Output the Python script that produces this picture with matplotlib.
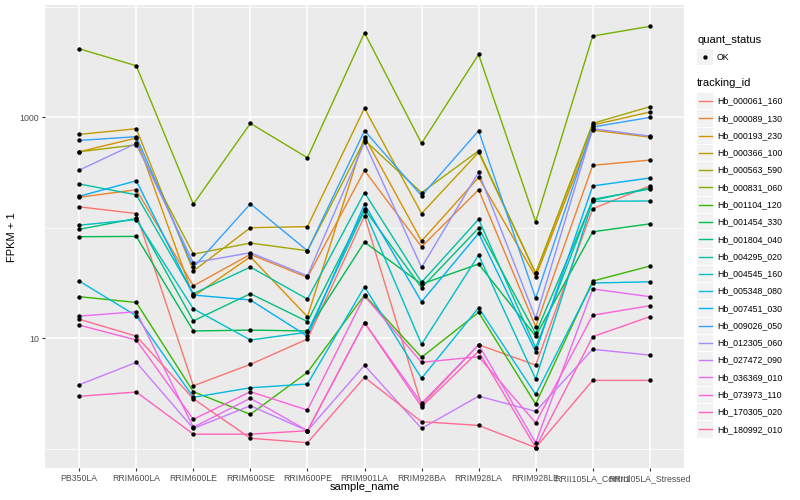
import matplotlib
matplotlib.use("Agg")
import matplotlib.pyplot as plt
from matplotlib.patches import Rectangle
from matplotlib.ticker import FixedLocator, NullFormatter

plt.rcParams['font.family'] = ['Liberation Sans', 'DejaVu Sans']

# samples (x axis)
samples = ["PB350LA", "RRIM600LA", "RRIM600LE", "RRIM600SE", "RRIM600PE",
           "RRIM901LA", "RRIM928BA", "RRIM928LA", "RRIM928LE",
           "RRII105LA_Control", "RRII105LA_Stressed"]

tracking_ids = ["Hb_000061_160", "Hb_000089_130", "Hb_000193_230", "Hb_000366_100",
                "Hb_000563_590", "Hb_000831_060", "Hb_001104_120", "Hb_001454_330",
                "Hb_001804_040", "Hb_004295_020", "Hb_004545_160", "Hb_005348_080",
                "Hb_007451_030", "Hb_009026_050", "Hb_012305_060", "Hb_027472_090",
                "Hb_036369_010", "Hb_073973_110", "Hb_170305_020", "Hb_180992_010"]

# FPKM + 1 per gene, one value per sample
hb_000061_160 = [154, 134, 3.70, 5.78, 9.8, 127, 2.48, 8.70, 5.70, 148, 238]
hb_000089_130 = [188, 220, 29.7, 57.2, 35.4, 329, 67.0, 220, 12.7, 366, 408]
hb_000193_230 = [485, 646, 23.8, 54.4, 15.6, 664, 75.5, 284, 35.9, 762, 659]
hb_000366_100 = [697, 784, 40.4, 99.6, 102, 1205, 134, 480, 38.5, 847, 1110]
hb_000563_590 = [485, 561, 57.5, 72.4, 61.7, 619, 207, 495, 38.5, 877, 1240]
hb_000831_060 = [4150, 2910, 163, 877, 428, 5790, 578, 3690, 113, 5410, 6620]
hb_001104_120 = [23.7, 21.0, 3.27, 2.04, 4.90, 24.5, 6.69, 17.1, 2.53, 32.8, 44.8]
hb_001454_330 = [82.6, 83.2, 11.6, 11.8, 11.6, 73.9, 30.8, 46.8, 10.4, 91.6, 108]
hb_001804_040 = [96.3, 121, 14.3, 25.2, 14.1, 147, 28.5, 98.9, 11.0, 176, 228]
hb_004295_020 = [248, 198, 25.2, 43.9, 22.5, 207, 31.9, 119, 8.17, 180, 223]
hb_004545_160 = [105, 118, 18.4, 9.6, 11.3, 142, 8.77, 56.4, 4.26, 173, 174]
hb_005348_080 = [32.8, 15.9, 2.91, 3.55, 3.84, 29.1, 4.32, 18.8, 3.09, 31.5, 32.3]
hb_007451_030 = [192, 265, 24.5, 22.1, 10.4, 163, 21.3, 88.7, 7.52, 238, 281]
hb_009026_050 = [615, 664, 43.6, 164, 61.7, 752, 194, 752, 22.9, 812, 993]
hb_012305_060 = [331, 578, 48.0, 59.2, 36.6, 590, 43.6, 316, 15.1, 784, 673]
hb_027472_090 = [3.78, 6.03, 1.52, 2.44, 1.45, 5.67, 1.52, 2.98, 2.17, 7.91, 7.01]
hb_036369_010 = [15.8, 17.3, 1.56, 2.85, 1.45, 13.8, 2.57, 8.70, 1.13, 27.8, 23.7]
hb_073973_110 = [13.1, 9.6, 1.84, 3.27, 2.23, 24.0, 6.03, 6.78, 1.71, 16.1, 19.6]
hb_170305_020 = [2.97, 3.25, 1.35, 1.35, 1.45, 13.8, 2.39, 7.59, 1.02, 10.3, 15.6]
hb_180992_010 = [14.8, 10.4, 2.82, 1.24, 1.13, 4.41, 1.75, 1.62, 1.02, 4.14, 4.14]

series = [hb_000061_160, hb_000089_130, hb_000193_230, hb_000366_100, hb_000563_590,
          hb_000831_060, hb_001104_120, hb_001454_330, hb_001804_040, hb_004295_020,
          hb_004545_160, hb_005348_080, hb_007451_030, hb_009026_050, hb_012305_060,
          hb_027472_090, hb_036369_010, hb_073973_110, hb_170305_020, hb_180992_010]

# ggplot hue palette, 20 levels
colors = ["#F8766D", "#EA8331", "#D89000", "#C09B00", "#A3A500", "#7CAE00", "#39B600",
          "#00BB4E", "#00BF7D", "#00C1A3", "#00BFC4", "#00BAE0", "#00B0F6", "#35A2FF",
          "#9590FF", "#C77CFF", "#E76BF3", "#FA62DB", "#FF62BC", "#FF6C91"]

W, H = 800, 500
fig = plt.figure(figsize=(8, 5), dpi=100)
ax = fig.add_axes([45 / W, 1 - 468 / H, 639 / W, 463 / H])
ax.set_facecolor("#EBEBEB")

x = list(range(len(samples)))
for vals, col in zip(series, colors):
    ax.plot(x, vals, color=col, lw=1.0, zorder=3)
for vals in series:
    ax.scatter(x, vals, s=10, color="black", zorder=4, linewidths=0)

ax.set_yscale("log")
ax.set_ylim(0.667, 10330)
ax.set_xlim(-0.6, len(samples) - 0.4)
ax.yaxis.set_major_locator(FixedLocator([10, 1000]))
ax.yaxis.set_minor_locator(FixedLocator([1, 100, 10000]))
ax.yaxis.set_minor_formatter(NullFormatter())
ax.set_yticklabels(["10", "1000"])
ax.set_xticks(x)
ax.set_xticklabels(samples)

ax.grid(True, which="major", color="white", lw=1.1, zorder=0)
ax.grid(True, which="minor", axis="y", color="white", lw=0.55, zorder=0)
ax.set_axisbelow(True)
for s in ax.spines.values():
    s.set_visible(False)
ax.tick_params(which="major", length=2.2, width=0.8, color="#333333",
               labelcolor="#4D4D4D", labelsize=6.3, pad=2)
ax.tick_params(which="minor", length=0)

fig.text(364.5 / W, 1 - 487 / H, "sample_name", fontsize=8, ha="center", va="center")
fig.text(12 / W, 1 - 237 / H, "FPKM + 1", fontsize=8, ha="center", va="center",
         rotation=90)

# legend drawn in pixel coordinates
lg = fig.add_axes([0, 0, 1, 1], facecolor="none")
lg.set_xlim(0, W)
lg.set_ylim(H, 0)
lg.axis("off")

lg.text(697, 40, "quant_status", fontsize=8, va="center", ha="left")
lg.add_patch(Rectangle((697, 49), 16, 16, color="#F2F2F2", lw=0))
lg.scatter([705], [57], s=10, color="black", linewidths=0)
lg.text(717, 57, "OK", fontsize=6.3, va="center", ha="left")

lg.text(697, 83, "tracking_id", fontsize=8, va="center", ha="left")
for i, (name, col) in enumerate(zip(tracking_ids, colors)):
    yc = 101 + i * 17.28
    lg.add_patch(Rectangle((697, yc - 8), 16, 16.3, color="#F2F2F2", lw=0))
    lg.plot([698.5, 711.5], [yc, yc], color=col, lw=1.0)
    lg.text(717, yc, name, fontsize=6.3, va="center", ha="left")

fig.savefig("out.png", dpi=100)
